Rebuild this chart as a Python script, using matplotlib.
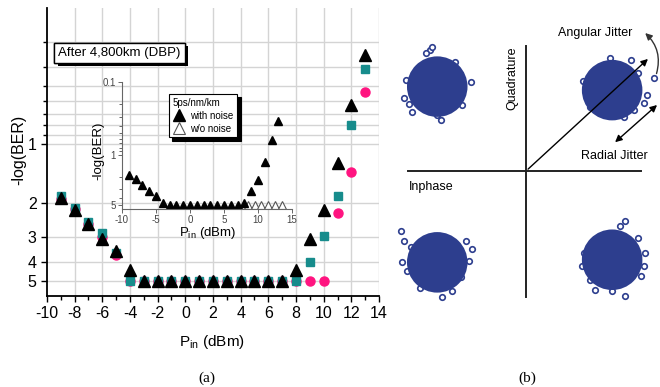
import numpy as np
import matplotlib
matplotlib.use("Agg")
import matplotlib.pyplot as plt
import matplotlib.patheffects as pe
from matplotlib.ticker import NullFormatter, FixedLocator, FixedFormatter

plt.rcParams['font.family'] = 'Liberation Sans'
plt.rcParams['mathtext.fontset'] = 'custom'
plt.rcParams['mathtext.rm'] = 'Liberation Sans'
plt.rcParams['axes.unicode_minus'] = False

# ---- panel (a) data: -log(BER) vs launch power ----
p_in = [-9, -8, -7, -6, -5, -4, -3, -2, -1, 0, 1, 2, 3, 4, 5, 6, 7, 8, 9, 10, 11, 12, 13]
tri = [1.88, 2.17, 2.56, 3.05, 3.54, 4.43, 5, 5, 5, 5, 5, 5, 5, 5, 5, 5, 5, 4.4, 3.05, 2.17, 1.25, 0.63, 0.35]
sq = [1.84, 2.12, 2.5, 2.85, 3.6, 5, 5, 5, 5, 5, 5, 5, 5, 5, 5, 5, 5, 5, 4.0, 2.95, 1.85, 0.8, 0.41]
circ = [1.9, 2.15, 2.55, 3.0, 3.68, 5, 5, 5, 5, 5, 5, 5, 5, 5, 5, 5, 5, 5, 5, 5, 2.24, 1.38, 0.54]

# inset
in_x = [-9, -8, -7, -6, -5, -4, -3, -2, -1, 0, 1, 2, 3, 4, 5, 6, 7, 8, 9, 10, 11, 12, 13]
in_noise = [1.91, 2.15, 2.6, 3.13, 3.67, 4.6, 5, 5, 5, 5, 5, 5, 5, 5, 5, 5, 5, 4.6, 3.2, 2.2, 1.26, 0.62, 0.34]
in_x_clean = [8.5, 9.5, 10.5, 11.5, 12.5, 13.5]
in_clean = [5, 5, 5, 5, 5, 5]

# ---- panel (b) data: QPSK constellation ----
centers_i = [-1.02, 0.99, -1.02, 0.99]
centers_q = [0.97, 0.93, -1.05, -1.02]
out_di = [
    [-0.084, -0.134, -0.057, -0.364, -0.383, -0.287, 0.0, 0.038, 0.383, 0.287, -0.33, 0.2],
    [0.479, 0.402, 0.364, -0.096, 0.134, 0.249, -0.249, -0.019, 0.211, -0.33, 0.3],
    [-0.421, -0.383, -0.402, -0.345, 0.057, 0.172, 0.402, 0.364, 0.268, -0.307, -0.2, 0.33],
    [0.153, 0.096, -0.326, -0.345, -0.249, -0.192, 0.153, 0.364, 0.383, 0.326, 0.0, 0.3],
]
out_dq = [
    [0.421, 0.383, 0.46, 0.077, -0.134, -0.287, -0.326, -0.383, 0.057, -0.211, -0.2, 0.28],
    [0.134, -0.057, -0.153, -0.268, -0.307, -0.23, -0.192, 0.364, 0.345, 0.1, 0.2],
    [0.364, 0.249, 0.0, -0.096, -0.402, -0.326, 0.153, 0.019, -0.172, 0.172, -0.3, 0.25],
    [0.441, 0.383, 0.077, -0.077, -0.23, -0.345, -0.421, -0.077, 0.077, -0.192, -0.36, 0.25],
]

W, H = 660, 387
fig = plt.figure(figsize=(6.6, 3.87), dpi=100)


def box(x0, y0, x1, y1):
    return [x0 / W, 1 - y1 / H, (x1 - x0) / W, (y1 - y0) / H]


teal = '#178C8C'
pink = '#FF1480'
grid_c = '#D4D4D4'

# main axes
ax = fig.add_axes(box(47, 8, 379, 296))
ax.set_yscale('log')
ax.set_xlim(-10, 14)
ax.set_ylim(6.0, 0.2)
ax.plot(p_in, circ, 'o', color=pink, ms=6.5, zorder=3)
ax.plot(p_in, sq, 's', color=teal, ms=6, zorder=4)
ax.plot(p_in, tri, '^', color='black', ms=9, zorder=5)

ax.yaxis.set_major_locator(FixedLocator([1, 2, 3, 4, 5]))
ax.yaxis.set_major_formatter(FixedFormatter(['1', '2', '3', '4', '5']))
ax.yaxis.set_minor_locator(FixedLocator([0.3, 0.4, 0.5, 0.6, 0.7, 0.8, 0.9]))
ax.yaxis.set_minor_formatter(NullFormatter())
ax.set_xticks(range(-10, 15, 2))
ax.set_xticks(range(-10, 15), minor=True)
for s in ['top', 'right']:
    ax.spines[s].set_visible(False)
for s in ['left', 'bottom']:
    ax.spines[s].set_linewidth(1.3)
ax.tick_params(which='both', direction='out', width=1, labelsize=11.5)
ax.tick_params(which='major', length=4)
ax.tick_params(which='minor', length=3)
# grid lines drawn at the tick positions
for yv in [0.3, 0.4, 0.5, 0.6, 0.7, 0.8, 0.9, 1, 2, 3, 4, 5]:
    ax.axhline(yv, color=grid_c, lw=1, zorder=0)
for xv in range(-8, 15, 2):
    ax.axvline(xv, color=grid_c, lw=1, zorder=0)
ax.set_ylabel('-log(BER)', fontsize=11.5)
ax.yaxis.set_label_coords(-0.062, 0.507)
ax.set_xlabel(r'P$_{\mathrm{in}}$ (dBm)', fontsize=11)
ax.xaxis.set_label_coords(0.497, -0.128)

t = ax.text(0.218, 0.844, 'After 4,800km (DBP)', transform=ax.transAxes,
            ha='center', va='center', fontsize=9.5, zorder=6,
            bbox=dict(boxstyle='square,pad=0.3', fc='white', ec='black', lw=1))
t.get_bbox_patch().set_path_effects([pe.withSimplePatchShadow(offset=(2.5, -2.5), shadow_rgbFace='black', alpha=1), pe.Normal()])

# inset
ai = fig.add_axes(box(122, 82, 292, 209))
ai.patch.set_alpha(0)
ai.set_yscale('log')
ai.set_xlim(-10, 15)
ai.set_ylim(5.6, 0.1)
ai.plot(in_x_clean, in_clean, '^', mfc='white', mec='#555555', ms=6, mew=0.8)
ai.plot(in_x, in_noise, '^', color='black', ms=6)
ai.yaxis.set_major_locator(FixedLocator([0.1, 1, 5]))
ai.yaxis.set_major_formatter(FixedFormatter(['0.1', '1', '5']))
ai.yaxis.set_minor_locator(FixedLocator([0.2, 0.3, 0.4, 0.5, 0.6, 0.7, 0.8, 0.9, 2, 3, 4]))
ai.yaxis.set_minor_formatter(NullFormatter())
ai.set_xticks(range(-10, 16, 5))
for s in ['top', 'right']:
    ai.spines[s].set_visible(False)
for s in ['left', 'bottom']:
    ai.spines[s].set_color('#666666')
    ai.spines[s].set_linewidth(0.8)
ai.tick_params(which='both', direction='out', colors='#666666', labelcolor='#444444',
               labelsize=7, width=0.7, pad=1.5)
ai.tick_params(which='major', length=3)
ai.tick_params(which='minor', length=2)
ai.set_ylabel('-log(BER)', fontsize=9.5)
ai.yaxis.set_label_coords(-0.103, 0.46)
ai.set_xlabel(r'P$_{\mathrm{in}}$ (dBm)', fontsize=9.5)
ai.xaxis.set_label_coords(0.506, -0.125)
h_clean, = ai.plot([], [], '^', mfc='white', mec='#555555', ms=8, mew=0.8)
h_noise, = ai.plot([], [], '^', color='black', ms=8)
leg = fig.legend([h_noise, h_clean], ['with noise', 'w/o noise'], title='5ps/nm/km',
                 loc='upper left', bbox_to_anchor=(164 / W, 1 - 89 / H), fontsize=7,
                 title_fontsize=7, frameon=True, fancybox=False, borderpad=0.4,
                 labelspacing=0.3, handletextpad=0.6, handlelength=1.2,
                 alignment='left', edgecolor='black',
                 shadow={'color': 'black', 'alpha': 1, 'ox': 2.5, 'oy': -2.5})
leg.get_frame().set_linewidth(0.8)

# panel (b)
ab = fig.add_axes([390 / W, 0, 270 / W, 1])
ab.set_xlim(-1.563, 1.540)
ab.set_ylim(-2.483, 1.966)
ab.axis('off')
navy = '#2D3E8E'
ab.plot([-1.356, 1.322], [0, 0], color='#222222', lw=1.4)
ab.plot([0, 0], [-1.448, 1.437], color='#222222', lw=1.4)
for ci, cq, di, dq in zip(centers_i, centers_q, out_di, out_dq):
    ab.scatter(np.array(di) + ci, np.array(dq) + cq, s=16, facecolors='white',
               edgecolors=navy, linewidths=1.2, zorder=2)
    ab.scatter([ci], [cq], s=1900, color=navy, zorder=3, edgecolors='none')
ab.annotate('', xy=(1.425, 1.31), xytext=(0, 0),
            arrowprops=dict(arrowstyle='-|>', color='black', lw=1, mutation_scale=10), zorder=5)
ab.annotate('', xy=(1.0, 0.31), xytext=(1.53, 0.78),
            arrowprops=dict(arrowstyle='<|-|>', color='black', lw=1, mutation_scale=10), zorder=5)
ab.annotate('', xy=(1.37, 1.586), xytext=(1.5, 1.12),
            arrowprops=dict(arrowstyle='-|>', color='#333333', lw=1, mutation_scale=10,
                            shrinkA=0, shrinkB=0, connectionstyle='arc3,rad=0.3'), zorder=5)
ab.text(0.37, 1.586, 'Angular Jitter', fontsize=9, va='center', ha='left')
ab.text(0.63, 0.17, 'Radial Jitter', fontsize=9, va='center', ha='left')
ab.text(-1.345, -0.184, 'Inphase', fontsize=9, va='center', ha='left')
ab.text(-0.16, 1.07, 'Quadrature', fontsize=9, va='center', ha='center', rotation=90)

fig.text(207 / W, 1 - 378 / H, '(a)', fontsize=11, ha='center', va='center', family='Liberation Serif')
fig.text(527 / W, 1 - 378 / H, '(b)', fontsize=11, ha='center', va='center', family='Liberation Serif')

fig.savefig('out.png', dpi=100)
